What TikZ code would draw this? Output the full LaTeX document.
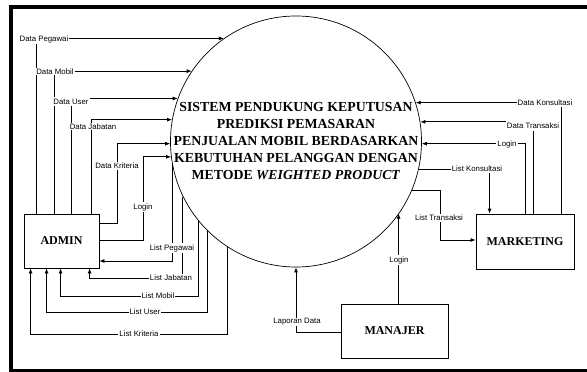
\documentclass[tikz,border=0pt]{standalone}
\usepackage{fontspec}
\setmainfont{Liberation Serif}
\newfontfamily\lblfamily{Liberation Sans}
\usetikzlibrary{arrows.meta,calc}
\begin{document}
\begin{tikzpicture}[x=1pt,y=-1pt,
  arr/.style={line width=0.8pt,-{Latex[length=5pt,width=4pt]}},
  lbl/.style={font=\lblfamily\fontsize{7.8}{9}\selectfont, fill=white, inner sep=1pt},
  ent/.style={draw,line width=0.8pt,inner sep=0pt,font=\fontsize{12}{14}\selectfont\bfseries},
  frame/.style={line width=4pt}]
\useasboundingbox (0,0) rectangle (587,372);
\clip (0,0) rectangle (587,372);
\fill[white] (0,0) rectangle (587,372);
\draw[frame] (600,7) -- (11,7) -- (11,371) -- (600,371);

% process
\node[draw,circle,line width=0.7pt,minimum size=251pt,inner sep=0pt] (circ) at (296,141.5) {};
\node[align=center,font=\fontsize{13.8}{17}\selectfont\bfseries] (ttl) at (circ.center)
  {SISTEM PENDUKUNG KEPUTUSAN\\PREDIKSI PEMASARAN\\PENJUALAN MOBIL BERDASARKAN\\KEBUTUHAN PELANGGAN DENGAN\\METODE \textit{WEIGHTED PRODUCT}};

% entities
\node[ent,minimum width=75pt,minimum height=54pt] (admin) at (61.5,241) {ADMIN};
\node[ent,minimum width=98pt,minimum height=55pt] (mkt) at (525,241.5) {MARKETING};
\node[ent,minimum width=107pt,minimum height=54pt] (man) at (394.5,331) {MANAJER};

% attachment points
\coordinate (at1) at ($(admin.north west)+(13,0)$);
\coordinate (at2) at ($(admin.north west)+(31,0)$);
\coordinate (at3) at ($(admin.north west)+(48,0)$);
\coordinate (at4) at ($(admin.north west)+(68,0)$);
\coordinate (ab1) at ($(admin.south west)+(7,0)$);
\coordinate (ab2) at ($(admin.south west)+(23,0)$);
\coordinate (ab3) at ($(admin.south west)+(37,0)$);
\coordinate (ab4) at ($(admin.south west)+(66,0)$);
\coordinate (mt0) at ($(mkt.north west)+(14,0)$);
\coordinate (mt1) at (mkt.north);
\coordinate (mt2) at ($(mkt.north west)+(58,0)$);
\coordinate (mt3) at ($(mkt.north west)+(86,0)$);
\coordinate (mn) at ($(man.north west)+(58,0)$);

% admin flows
\draw[arr] (at1) |- (circ.125);
\draw[arr] (at2) |- (circ.146);
\draw[arr] (at3) |- (circ.160);
\draw[arr] (at4) |- (circ.170);
\draw[arr] (admin.east |- 0,223) -| (117,0 |- circ.181) -- (circ.181);
\draw[arr] (admin.east |- 0,240) -| (143,0 |- circ.187) -- (circ.187);
\draw[arr] (circ.190) |- (admin.east |- 0,261);
\draw[arr] (circ.206) |- (ab4 |- 0,278) -- (ab4);
\draw[arr] (circ.219) |- (ab3 |- 0,296) -- (ab3);
\draw[arr] (circ.225) |- (ab2 |- 0,312) -- (ab2);
\draw[arr] (circ.237) |- (ab1 |- 0,334) -- (ab1);

% marketing flows
\draw[arr] (mt3) |- (circ.18);
\draw[arr] (mt2) |- (circ.9);
\draw[arr] (mt1) |- (circ.359);
\draw[arr] (circ.347) -| (mt0);
\draw[arr] (circ.337) -| (440,240) -- (mkt.west |- 0,240);

% manajer flows
\draw[arr] (mn) -- (mn |- circ.325);
\draw[arr] (man.west |- 0,332) -| (circ.south);

% labels
\node[lbl] (l1) at (44,39) {Data Pegawai};
\node[lbl] (l2) at (55,71.5) {Data Mobil};
\node[lbl, inner ysep=2pt] (l3) at (71,101.5) {Data User};
\node[lbl] (l4) at (93,126.5) {Data Jabatan};
\node[lbl] (l5) at (117,166) {Data Kriteria};
\node[lbl] (l6) at (143,207) {Login};
\node[lbl] (l7) at (172,248) {List Pegawai};
\node[lbl] (l8) at (171,278) {List Jabatan};
\node[lbl] (l9) at (158,296) {List Mobil};
\node[lbl] (l10) at (145,312) {List User};
\node[lbl] (l11) at (139,334) {List Kriteria};
\node[lbl] (r1) at (545,103) {Data Konsultasi};
\node[lbl, inner ysep=2pt] (r2) at (533,126) {Data Transaksi};
\node[lbl] (r3) at (507,144) {Login};
\node[lbl] (r4) at (477,169) {List Konsultasi};
\node[lbl] (r5) at (439,218) {List Transaksi};
\node[lbl] (m1) at (399,260) {Login};
\node[lbl] (m2) at (297,322) {Laporan Data};
\end{tikzpicture}
\end{document}
